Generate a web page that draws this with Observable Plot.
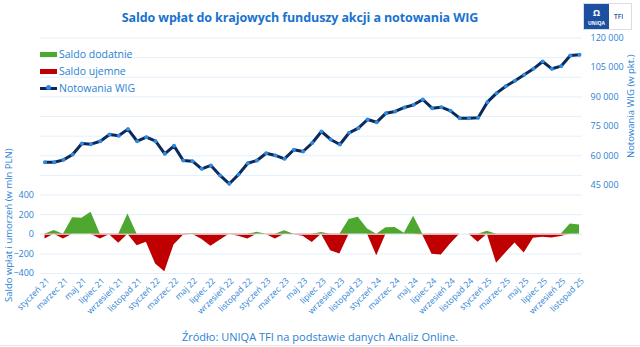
<!DOCTYPE html>
<html><head><meta charset="utf-8">
<script src="https://cdn.jsdelivr.net/npm/d3@7"></script>
<script src="https://cdn.jsdelivr.net/npm/@observablehq/plot@0.6"></script>
<style>
body{margin:0;background:#fff;font-family:"Open Sans",sans-serif;}
#wrap{position:relative;width:640px;height:347px;overflow:hidden;}
#chart{position:absolute;left:0;top:0;}
.title{position:absolute;left:0;width:600px;top:9px;text-align:center;font-weight:700;font-size:12.5px;color:#1a72cf;letter-spacing:-0.1px;}
.cap{position:absolute;left:0;width:640px;top:329px;text-align:center;font-size:11px;color:#2a7fd4;}
.leg{position:absolute;left:40px;font-size:10.5px;color:#2a7fd4;line-height:12px;}
.sw{display:inline-block;width:17px;height:5px;vertical-align:middle;margin-right:2px;position:relative;top:-1px;}
.ax{position:absolute;font-size:9.5px;color:#2a7fd4;white-space:nowrap;transform-origin:0 0;transform:rotate(-90deg);}
.logo{position:absolute;left:583px;top:3px;width:49px;height:27px;border:1px solid #d8dde6;box-sizing:border-box;background:#fff;}
.logo .l{position:absolute;left:0;top:0;width:25px;height:25px;background:#1c4fa0;color:#fff;font-size:5px;font-weight:700;text-align:center;}
.logo .r{position:absolute;left:30px;top:8px;font-size:6.5px;color:#1c4fa0;font-weight:600;}
.botline{position:absolute;left:0;top:345px;width:640px;height:1px;background:#e6e6e6;}
</style></head>
<body>
<div id="wrap">
<div id="chart"></div>
<div class="title">Saldo wpłat do krajowych funduszy akcji a notowania WIG</div>
<div class="logo"><div class="l"><div style="font-size:9px;line-height:9px;margin-top:4px;">&#x03A9;</div><div style="margin-top:3px;">UNIQA</div></div><div class="r">TFI</div></div>
<div class="leg" style="top:48px;"><span class="sw" style="background:#4ea72e"></span>Saldo dodatnie</div>
<div class="leg" style="top:65px;"><span class="sw" style="background:#c00000"></span>Saldo ujemne</div>
<div class="leg" style="top:82px;"><span class="sw" style="height:3px;background:#0b2a5b;position:relative;"><span style="position:absolute;left:6px;top:-1.5px;width:5px;height:5px;border-radius:50%;background:#2f8be0;"></span></span>Notowania WIG</div>
<div class="ax" id="ylab" style="left:2px;top:302px;">Saldo wpłat i umorzeń (w mln PLN)</div>
<div class="ax" id="y2lab" style="left:624px;top:158px;">Notowania WIG (w pkt.)</div>
<div class="cap">Źródło: UNIQA TFI na podstawie danych Analiz Online.</div>
<div class="botline"></div>
</div>
<script>
const monthLabels = ["styczeń 21","marzec 21","maj 21","lipiec 21","wrzesień 21","listopad 21",
"styczeń 22","marzec 22","maj 22","lipiec 22","wrzesień 22","listopad 22",
"styczeń 23","marzec 23","maj 23","lipiec 23","wrzesień 23","listopad 23",
"styczeń 24","marzec 24","maj 24","lipiec 24","wrzesień 24","listopad 24",
"styczeń 25","marzec 25","maj 25","lipiec 25","wrzesień 25","listopad 25"];

const wig = [56700,56700,57900,60600,66250,65900,67400,70800,70150,73550,
67400,69450,67400,61000,65050,57600,57250,53350,55050,49950,
45700,50450,56200,57600,61300,60150,58450,63050,62170,66500,
72360,68290,65740,71700,74050,78480,77100,81700,82550,84600,
85950,88670,84250,84750,82900,79150,79150,79320,87300,91900,
95450,98200,101250,104300,108040,104300,105650,111100,111450];

const saldo = [-48,37,-48,167,163,224,-48,-5,-92,207,
-116,-82,-303,-381,-109,-14,5,-50,-122,-60,
3,-20,-48,20,-3,-48,35,-5,-20,-85,
17,-167,-200,150,173,54,-218,65,68,10,
184,-10,-204,-211,-99,0,0,-82,30,-296,
-190,-90,-190,-41,-31,-37,-24,105,95];

const leftTicks = [-400,-200,0,200,400];
const rightTicks = [45000,60000,75000,90000,105000,120000];

// left axis domain [-400, 2000]; right axis domain [0, 120000] share the same vertical extent
const toLeft = v => v / 120000 * 2400 - 400;
const fmt = v => d3.format(",")(v).replace(/,/g, " ");

const data = wig.map((w, i) => ({i, wig: w, wy: toLeft(w), pos: Math.max(saldo[i], 0), neg: Math.min(saldo[i], 0)}));
const tickIdx = monthLabels.map((_, k) => k * 2);

const txt = "#2a7fd4";
const chart = Plot.plot({
  width: 640, height: 347,
  marginTop: 37.5, marginBottom: 74, marginLeft: 44.5, marginRight: 61,
  style: {fontFamily: "Open Sans", fontSize: "9px", color: txt, background: "transparent"},
  x: {type: "linear", domain: [0, 58]},
  y: {domain: [-400, 2000]},
  marks: [
    Plot.ruleY(d3.range(-400, 2001, 200), {x1: -0.5, x2: 58.3, stroke: "#e3f0fa", strokeWidth: 1}),
    Plot.areaY(data, {x: "i", y1: 0, y2: "pos", fill: "#4ea72e", curve: "linear"}),
    Plot.areaY(data, {x: "i", y1: 0, y2: "neg", fill: "#c00000", curve: "linear"}),
    Plot.ruleY([0], {x1: -0.5, x2: 58.3, stroke: "#e8eef3", strokeWidth: 1}),
    Plot.line(data, {x: "i", y: "wy", stroke: "#0b2a5b", strokeWidth: 3, curve: "linear"}),
    Plot.dot(data, {x: "i", y: "wy", r: 2, fill: "#2f8be0", stroke: "none"}),
    Plot.axisY({anchor: "left", ticks: leftTicks, tickSize: 0, tickPadding: 11, label: null, fill: txt}),
    Plot.axisY({anchor: "right", ticks: rightTicks.map(toLeft), tickSize: 0, tickPadding: 11, label: null, fill: txt,
      tickFormat: v => fmt(Math.round((v + 400) / 2400 * 120000))}),
    Plot.axisX({ticks: tickIdx, tickSize: 0, tickPadding: 6, tickRotate: -45, label: null, fill: txt, fontSize: 8.5, dx: 3,
      tickFormat: i => monthLabels[i / 2]})
  ]
});
document.getElementById("chart").appendChild(chart);
</script>
</body></html>
